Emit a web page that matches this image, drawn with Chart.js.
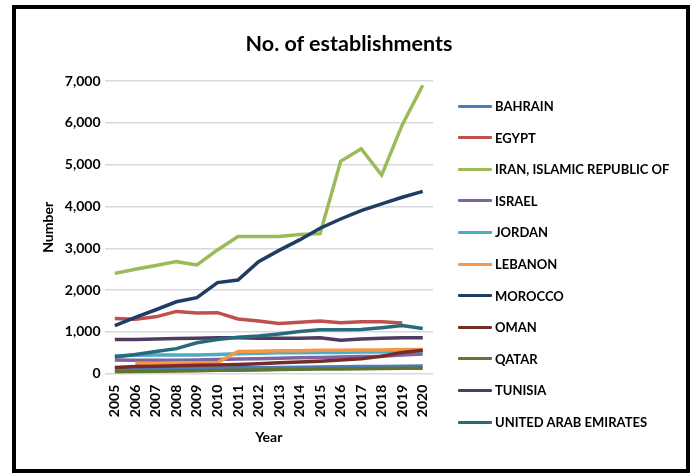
<!DOCTYPE html>
<html>
<head>
<meta charset="utf-8">
<title>No. of establishments</title>
<script src="https://cdn.jsdelivr.net/npm/chart.js@4.4.0/dist/chart.umd.min.js"></script>
<style>
  html, body { margin: 0; padding: 0; background: #fff; }
  .frame {
    position: absolute;
    left: 12px; top: 5px;
    width: 670px; height: 460px;
    border: 4px solid #000;
    background: #fff;
    font-family: Lato, Calibri, "Liberation Sans", sans-serif;
    color: #000;
  }
  .frame canvas { display: block; }
  #chartTitle {
    position: absolute;
    left: 0; top: 21px;
    width: 666px;
    text-align: center;
    font-size: 21.5px;
    font-weight: bold;
    line-height: 26px;
  }
  #legend {
    position: absolute;
    left: 442px; top: 0;
    font-size: 13px;
    font-weight: bold;
  }
  .legend-item {
    position: absolute;
    left: 0;
    height: 16px;
    display: flex;
    align-items: center;
    white-space: nowrap;
  }
  .legend-line {
    display: inline-block;
    width: 34px;
    height: 3px;
    margin-right: 3px;
    border-radius: 1px;
  }
</style>
</head>
<body>
<div class="frame">
  <canvas id="estChart" width="670" height="460"></canvas>
  <div id="chartTitle">No. of establishments</div>
  <div id="legend"></div>
</div>
<script>
// Establishments per country, 2005-2020
const years = ['2005', '2006', '2007', '2008', '2009', '2010', '2011', '2012',
               '2013', '2014', '2015', '2016', '2017', '2018', '2019', '2020'];

const bahrain  = [110, 115, 120, 125, 130, 135, 140, 145, 150, 155, 160, 165, 170, 175, 180, 185];
const egypt    = [1320, 1300, 1360, 1490, 1450, 1460, 1310, 1260, 1200, 1230, 1260, 1220, 1240, 1240, 1210, null];
const iran     = [2400, 2500, 2590, 2680, 2600, 2960, 3280, 3280, 3280, 3330, 3350, 5080, 5380, 4750, 5950, 6900];
const israel   = [330, 320, 320, 320, 330, 340, 350, 360, 370, 380, 390, 400, 410, 420, 450, 470];
const jordan   = [430, 440, 450, 450, 450, 460, 480, 490, 500, 500, 510, 510, 520, 520, 530, 540];
const lebanon  = [null, 250, 250, 260, 260, 270, 530, 540, 550, 550, 560, 560, 570, 570, 580, 580];
const morocco  = [1150, 1350, 1530, 1720, 1820, 2180, 2240, 2680, 2950, 3200, 3480, 3700, 3900, 4060, 4220, 4360];
const oman     = [150, 170, 180, 190, 200, 210, 220, 240, 260, 280, 300, 330, 360, 420, 510, 560];
const qatar    = [50, 55, 60, 65, 70, 80, 85, 90, 100, 105, 110, 115, 120, 125, 130, 130];
const tunisia  = [820, 820, 830, 840, 850, 860, 860, 850, 850, 850, 860, 800, 830, 850, 860, 860];
const uae      = [400, 460, 530, 600, 740, 820, 870, 900, 950, 1010, 1050, 1050, 1060, 1100, 1150, 1080];

const seriesNames = ['BAHRAIN', 'EGYPT', 'IRAN, ISLAMIC REPUBLIC OF', 'ISRAEL', 'JORDAN', 'LEBANON',
                     'MOROCCO', 'OMAN', 'QATAR', 'TUNISIA', 'UNITED ARAB EMIRATES'];
const seriesData = [bahrain, egypt, iran, israel, jordan, lebanon, morocco, oman, qatar, tunisia, uae];
const seriesColors = ['#4A7EBB', '#C0504D', '#9BBB59', '#8064A2', '#4BACC6', '#F79646',
                      '#1F3D63', '#772C2A', '#5F7530', '#4D3B62', '#276A7C'];

const FONT = 'Lato, Calibri, "Liberation Sans", sans-serif';

// later series are painted over earlier ones (lowest order = on top)
const datasets = seriesNames.map((name, i) => ({
  label: name,
  data: seriesData[i],
  borderColor: seriesColors[i],
  backgroundColor: seriesColors[i],
  borderWidth: 3.5,
  pointRadius: 0,
  tension: 0,
  order: seriesNames.length - i
}));

const ctx = document.getElementById('estChart');
const chart = new Chart(ctx, {
  type: 'line',
  data: { labels: years, datasets: datasets },
  options: {
    responsive: false,
    animation: false,
    layout: { padding: { left: 20, right: 253, top: 72, bottom: 19 } },
    scales: {
      x: {
        offset: true,
        grid: { display: false },
        border: { display: false },
        ticks: {
          color: '#000',
          font: { family: FONT, size: 14, weight: 'bold' },
          maxRotation: 90,
          minRotation: 90,
          padding: 3
        },
        title: {
          display: true,
          text: 'Year',
          color: '#000',
          font: { family: FONT, size: 14, weight: 'bold' },
          padding: { top: 9 }
        }
      },
      y: {
        min: 0,
        max: 7000,
        grid: { color: '#D9D9D9', lineWidth: 1.5, drawTicks: false },
        border: { display: false },
        ticks: {
          stepSize: 1000,
          color: '#000',
          padding: 4,
          font: { family: FONT, size: 14, weight: 'bold' },
          callback: v => v.toLocaleString('en-US')
        },
        title: {
          display: true,
          text: 'Number',
          color: '#000',
          font: { family: FONT, size: 14, weight: 'bold' },
          padding: { bottom: 4 }
        }
      }
    },
    plugins: {
      title: { display: false },
      legend: { display: false },
      tooltip: { enabled: false }
    }
  }
});

// legend column on the right, same order as the series list
function buildLegend() {
  const box = document.getElementById('legend');
  const firstCenter = 97;
  const step = 31.6;
  seriesNames.forEach((name, i) => {
    const item = document.createElement('div');
    item.className = 'legend-item';
    item.style.top = (firstCenter + i * step - 8) + 'px';
    const line = document.createElement('span');
    line.className = 'legend-line';
    line.style.background = seriesColors[i];
    const label = document.createElement('span');
    label.textContent = name;
    item.appendChild(line);
    item.appendChild(label);
    box.appendChild(item);
  });
}
buildLegend();
</script>
</body>
</html>
